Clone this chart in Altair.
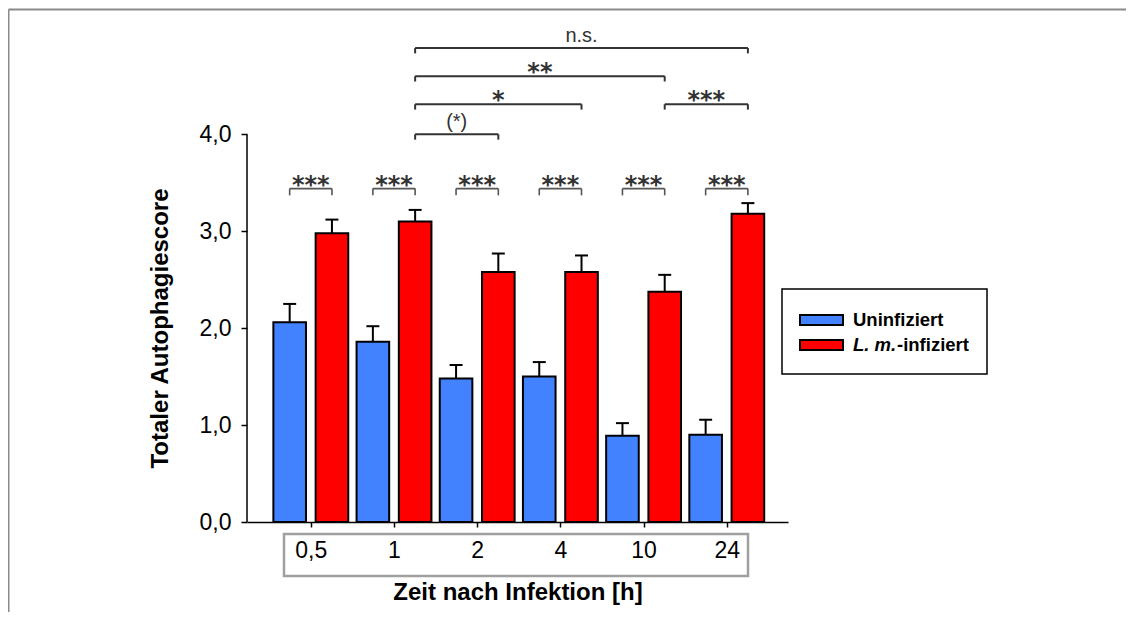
import json
import altair as alt
import pandas as pd

# ---------------- data ----------------
groups = ["0,5", "1", "2", "4", "10", "24"]
series = ["Uninfiziert", "L. m.-infiziert"]
uninfected = [2.06, 1.86, 1.48, 1.50, 0.89, 0.90]
uninfected_err = [0.19, 0.16, 0.14, 0.15, 0.13, 0.155]
infected = [2.98, 3.10, 2.58, 2.58, 2.375, 3.18]
infected_err = [0.14, 0.12, 0.19, 0.17, 0.175, 0.11]
colors = ["#4282ff", "#ff0000"]

pair_labels = ["***", "***", "***", "***", "***", "***"]
pair_level = 3.44

comp_from = [1, 1, 1, 4, 1]
comp_to = [2, 3, 4, 5, 5]
comp_level = [4.0, 4.31, 4.60, 4.31, 4.89]
comp_labels = ["(*)", "*", "**", "***", "n.s."]

y_ticks = [0, 1, 2, 3, 4]

# ---------------- geometry (in group units) ----------------
OFF = 0.254      # bar centre offset from group centre
HALF = 0.196     # bar half width
CAP = 0.078      # error cap half width
W, H = 541, 504
FONT = "Liberation Sans"

rows = []
for i, g in enumerate(groups):
    rows.append({"gi": i, "group": g, "series": series[0], "sidx": 0,
                 "value": uninfected[i], "err": uninfected_err[i]})
    rows.append({"gi": i, "group": g, "series": series[1], "sidx": 1,
                 "value": infected[i], "err": infected_err[i]})
df = pd.DataFrame(rows)

pairs = pd.DataFrame({"gi": list(range(len(groups))), "label": pair_labels,
                      "level": [pair_level] * len(groups)})
comps = pd.DataFrame({"a": comp_from, "b": comp_to, "level": comp_level,
                      "label": comp_labels})
dummy = pd.DataFrame({"d": [0]})

xs = alt.Scale(domain=[-0.767, 5.736], nice=False, zero=False)
ys = alt.Scale(domain=[0, 5.2], nice=False, zero=True)

label_expr = json.dumps(groups) + "[datum.value]"

x_axis = alt.Axis(values=list(range(len(groups))), labelExpr=label_expr,
                  grid=False, domain=True, domainColor="black", domainWidth=1.5,
                  ticks=True, tickSize=5, tickColor="black", tickWidth=1.5,
                  labelFont=FONT, labelFontSize=23, labelColor="black",
                  labelPadding=12, labelBaseline="top",
                  title="Zeit nach Infektion [h]", titleFont=FONT,
                  titleFontSize=24, titleFontWeight="bold", titleColor="black",
                  titlePadding=18)
y_axis = alt.Axis(values=y_ticks,
                  labelExpr="replace(format(datum.value, '.1f'), '.', ',')",
                  grid=False, domain=False, ticks=True, tickSize=6,
                  tickColor="black", tickWidth=1.5,
                  labelFont=FONT, labelFontSize=23, labelColor="black",
                  labelPadding=10,
                  title="Totaler Autophagiescore", titleFont=FONT,
                  titleFontSize=24, titleFontWeight="bold", titleColor="black",
                  titleX=-87, titleY=328 - 18, titleAngle=-90,
                  titleBaseline="middle", titleAlign="center")


def X(field):
    return alt.X(field, scale=xs, axis=x_axis)


def Y(field):
    return alt.Y(field, scale=ys, axis=y_axis)


bar_base = alt.Chart(df).transform_calculate(
    xc=f"datum.gi + (datum.sidx == 0 ? -{OFF} : {OFF})"
).transform_calculate(
    xl=f"datum.xc - {HALF}", xr=f"datum.xc + {HALF}",
    cl=f"datum.xc - {CAP}", cr=f"datum.xc + {CAP}",
    top="datum.value + datum.err", zero="0"
)

bars = bar_base.mark_bar(stroke="black", strokeWidth=2).encode(
    x=X("xl:Q"),
    x2="xr:Q",
    y=Y("value:Q"),
    y2="zero:Q",
    color=alt.Color("series:N", scale=alt.Scale(domain=series, range=colors),
                    legend=None),
)

err_stem = bar_base.mark_rule(color="black", strokeWidth=2).encode(
    x=X("xc:Q"), y=Y("value:Q"), y2="top:Q",
)
err_cap = bar_base.mark_rule(color="black", strokeWidth=2).encode(
    x=X("cl:Q"), x2="cr:Q", y=Y("top:Q"),
)

# y axis line only from 0 to 4
y_line = alt.Chart(dummy).transform_calculate(
    lo=str(min(y_ticks)), hi=str(max(y_ticks))
).mark_rule(color="black", strokeWidth=1.5).encode(
    x=alt.value(0), y=Y("lo:Q"), y2="hi:Q",
)

# ---------- within-group brackets ----------
pb = alt.Chart(pairs).transform_calculate(
    xa=f"datum.gi - {OFF}", xb=f"datum.gi + {OFF}", xm="datum.gi",
    low="datum.level - 0.07"
)
pair_h = pb.mark_rule(color="#555555", strokeWidth=1.6).encode(
    x=X("xa:Q"), x2="xb:Q", y=Y("level:Q"))
pair_l = pb.mark_rule(color="#555555", strokeWidth=1.6).encode(
    x=X("xa:Q"), y=Y("low:Q"), y2="level:Q")
pair_r = pb.mark_rule(color="#555555", strokeWidth=1.6).encode(
    x=X("xb:Q"), y=Y("low:Q"), y2="level:Q")
pair_t = pb.mark_text(font="DejaVu Sans", fontSize=24, fontWeight="bold",
                      color="#333333", baseline="alphabetic", dy=4).encode(
    x=X("xm:Q"), y=Y("level:Q"), text="label:N")

# ---------- between-group brackets (infected bars) ----------
cb = alt.Chart(comps).transform_calculate(
    xa=f"datum.a + {OFF}", xb=f"datum.b + {OFF}",
    xm=f"(datum.a + datum.b) / 2 + {OFF}",
    low="datum.level - 0.055",
    stars="test(/^[*]+$/, datum.label)"
)
comp_h = cb.mark_rule(color="#333333", strokeWidth=2).encode(
    x=X("xa:Q"), x2="xb:Q", y=Y("level:Q"))
comp_l = cb.mark_rule(color="#333333", strokeWidth=2).encode(
    x=X("xa:Q"), y=Y("low:Q"), y2="level:Q")
comp_r = cb.mark_rule(color="#333333", strokeWidth=2).encode(
    x=X("xb:Q"), y=Y("low:Q"), y2="level:Q")
comp_star = cb.transform_filter("datum.stars").mark_text(
    font="DejaVu Sans", fontSize=24, fontWeight="bold", color="#333333",
    baseline="alphabetic", dy=4).encode(
    x=X("xm:Q"), y=Y("level:Q"), text="label:N")
comp_txt = cb.transform_filter("!datum.stars").mark_text(
    font=FONT, fontSize=20, color="#333333", baseline="alphabetic",
    dy=-6).encode(
    x=X("xm:Q"), y=Y("level:Q"), text="label:N")

# ---------- decorations ----------
label_box = alt.Chart(dummy).mark_rect(filled=False, stroke="#a0a0a0",
                                      strokeWidth=2.5).encode(
    x=alt.value(37), x2=alt.value(501), y=alt.value(516), y2=alt.value(558))

frame_top = alt.Chart(dummy).mark_rule(color="#8a8a8a", strokeWidth=2).encode(
    x=alt.value(-238.5), x2=alt.value(W + 345), y=alt.value(-8.5))
frame_left = alt.Chart(dummy).mark_rule(color="#8a8a8a", strokeWidth=2).encode(
    x=alt.value(-238.5), y=alt.value(-8.5), y2=alt.value(H + 120))

# ---------- legend (manual, for the italic species name) ----------
LX, LY = 535, 271
leg_box = alt.Chart(dummy).mark_rect(fill="white", stroke="black",
                                    strokeWidth=1.5).encode(
    x=alt.value(LX), x2=alt.value(LX + 205), y=alt.value(LY), y2=alt.value(LY + 85))
leg_sw1 = alt.Chart(dummy).mark_rect(fill=colors[0], stroke="black",
                                    strokeWidth=2).encode(
    x=alt.value(LX + 18), x2=alt.value(LX + 61), y=alt.value(LY + 26),
    y2=alt.value(LY + 36))
leg_sw2 = alt.Chart(dummy).mark_rect(fill=colors[1], stroke="black",
                                    strokeWidth=2).encode(
    x=alt.value(LX + 18), x2=alt.value(LX + 61), y=alt.value(LY + 51),
    y2=alt.value(LY + 61))
leg_t1 = alt.Chart(dummy).mark_text(font=FONT, fontSize=18.5, fontWeight="bold",
                                   align="left", baseline="middle",
                                   color="black").encode(
    x=alt.value(LX + 71), y=alt.value(LY + 31), text=alt.value(series[0]))
leg_t2a = alt.Chart(dummy).mark_text(font=FONT, fontSize=18.5, fontWeight="bold",
                                    fontStyle="italic", align="left",
                                    baseline="middle", color="black").encode(
    x=alt.value(LX + 71), y=alt.value(LY + 56), text=alt.value(series[1][:5]))
leg_t2b = alt.Chart(dummy).mark_text(font=FONT, fontSize=18.5, fontWeight="bold",
                                    align="left", baseline="middle",
                                    color="black").encode(
    x=alt.value(LX + 115), y=alt.value(LY + 56), text=alt.value(series[1][5:]))

chart = alt.layer(
    bars, err_stem, err_cap, y_line,
    pair_h, pair_l, pair_r, pair_t,
    comp_h, comp_l, comp_r, comp_star, comp_txt,
    frame_top, frame_left, label_box,
    leg_box, leg_sw1, leg_sw2, leg_t1, leg_t2a, leg_t2b,
).properties(
    width=W, height=H,
    autosize=alt.AutoSizeParams(type="none"),
    padding={"left": 239, "top": 10, "right": 338, "bottom": 90},
    background="white",
).configure_view(stroke=None)

chart.save("out.html", embed_options={"renderer": "svg", "actions": False})
